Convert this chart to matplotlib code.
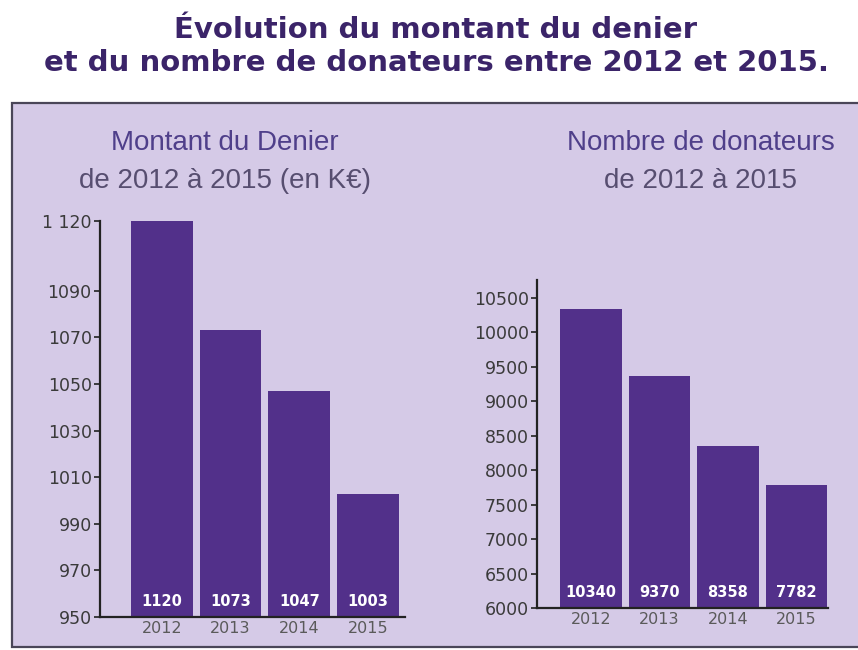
import matplotlib
matplotlib.use('Agg')
import matplotlib.pyplot as plt
from matplotlib.patches import Rectangle

# données
annees = ['2012', '2013', '2014', '2015']
montant_denier = [1120, 1073, 1047, 1003]          # en K€
nb_donateurs = [10340, 9370, 8358, 7782]

ticks_montant = [950, 970, 990, 1010, 1030, 1050, 1070, 1090, 1120]
labels_montant = ['950', '970', '990', '1010', '1030', '1050', '1070', '1090', '1 120']
ticks_donateurs = [6000, 6500, 7000, 7500, 8000, 8500, 9000, 9500, 10000, 10500]

violet = '#52308a'
fond = '#d5cae7'
titre_col = '#3b2469'
gris = '#3a3a3a'

fig = plt.figure(figsize=(8.58, 6.5), dpi=100)
fig.patch.set_facecolor('white')

# cadre lavande
fig.patches.append(Rectangle((12 / 858, 3 / 650), 1.0, 544 / 650,
                             transform=fig.transFigure, facecolor=fond,
                             edgecolor='#4a4658', linewidth=1.6, zorder=-5))

fig.text(436 / 858, 1 - 30 / 650, 'Évolution du montant du denier',
         ha='center', va='center', fontsize=21, fontweight='bold', color=titre_col)
fig.text(436 / 858, 1 - 63 / 650, 'et du nombre de donateurs entre 2012 et 2015.',
         ha='center', va='center', fontsize=21, fontweight='bold', color=titre_col)


def panneau(rect, valeurs, yticks, ylabels, ylim, xlim, titre1, titre2, cx):
    ax = fig.add_axes(rect)
    ax.set_facecolor('none')
    x = range(len(valeurs))
    ax.bar(x, valeurs, width=0.9, color=violet, zorder=2)
    ax.set_ylim(*ylim)
    ax.set_xlim(*xlim)
    ax.set_yticks(yticks)
    ax.set_yticklabels(ylabels, fontsize=12.5, color=gris)
    ax.set_xticks(list(x))
    ax.set_xticklabels(annees, fontsize=11.5, color='#5a5a5a')
    for s in ['top', 'right']:
        ax.spines[s].set_visible(False)
    for s in ['left', 'bottom']:
        ax.spines[s].set_linewidth(1.6)
        ax.spines[s].set_color('#222222')
    ax.tick_params(axis='y', length=4, width=1.2, color='#222222', pad=2)
    ax.tick_params(axis='x', length=0, pad=3)
    for xi, v in zip(x, valeurs):
        ax.annotate(str(v), (xi, ylim[0]), xytext=(0, 6), textcoords='offset points',
                    ha='center', va='bottom', fontsize=10.5, fontweight='bold',
                    color='white')
    fig.text(cx, 1 - 143 / 650, titre1, ha='center', va='center',
             fontsize=20, color='#4f3f8a', family='Liberation Sans')
    fig.text(cx, 1 - 181 / 650, titre2, ha='center', va='center',
             fontsize=20, color='#574e70', family='Liberation Sans')
    return ax


panneau([100 / 858, 33 / 650, 305 / 858, 396 / 650], montant_denier,
        ticks_montant, labels_montant, (950, 1120), (-0.9, 3.54),
        'Montant du Denier', 'de 2012 à 2015 (en K€)', 225 / 858)

panneau([537 / 858, 42 / 650, 291 / 858, 328 / 650], nb_donateurs,
        ticks_donateurs, [str(t) for t in ticks_donateurs], (6000, 10760), (-0.79, 3.46),
        'Nombre de donateurs', 'de 2012 à 2015', 701 / 858)

fig.savefig('out.png', dpi=100)
